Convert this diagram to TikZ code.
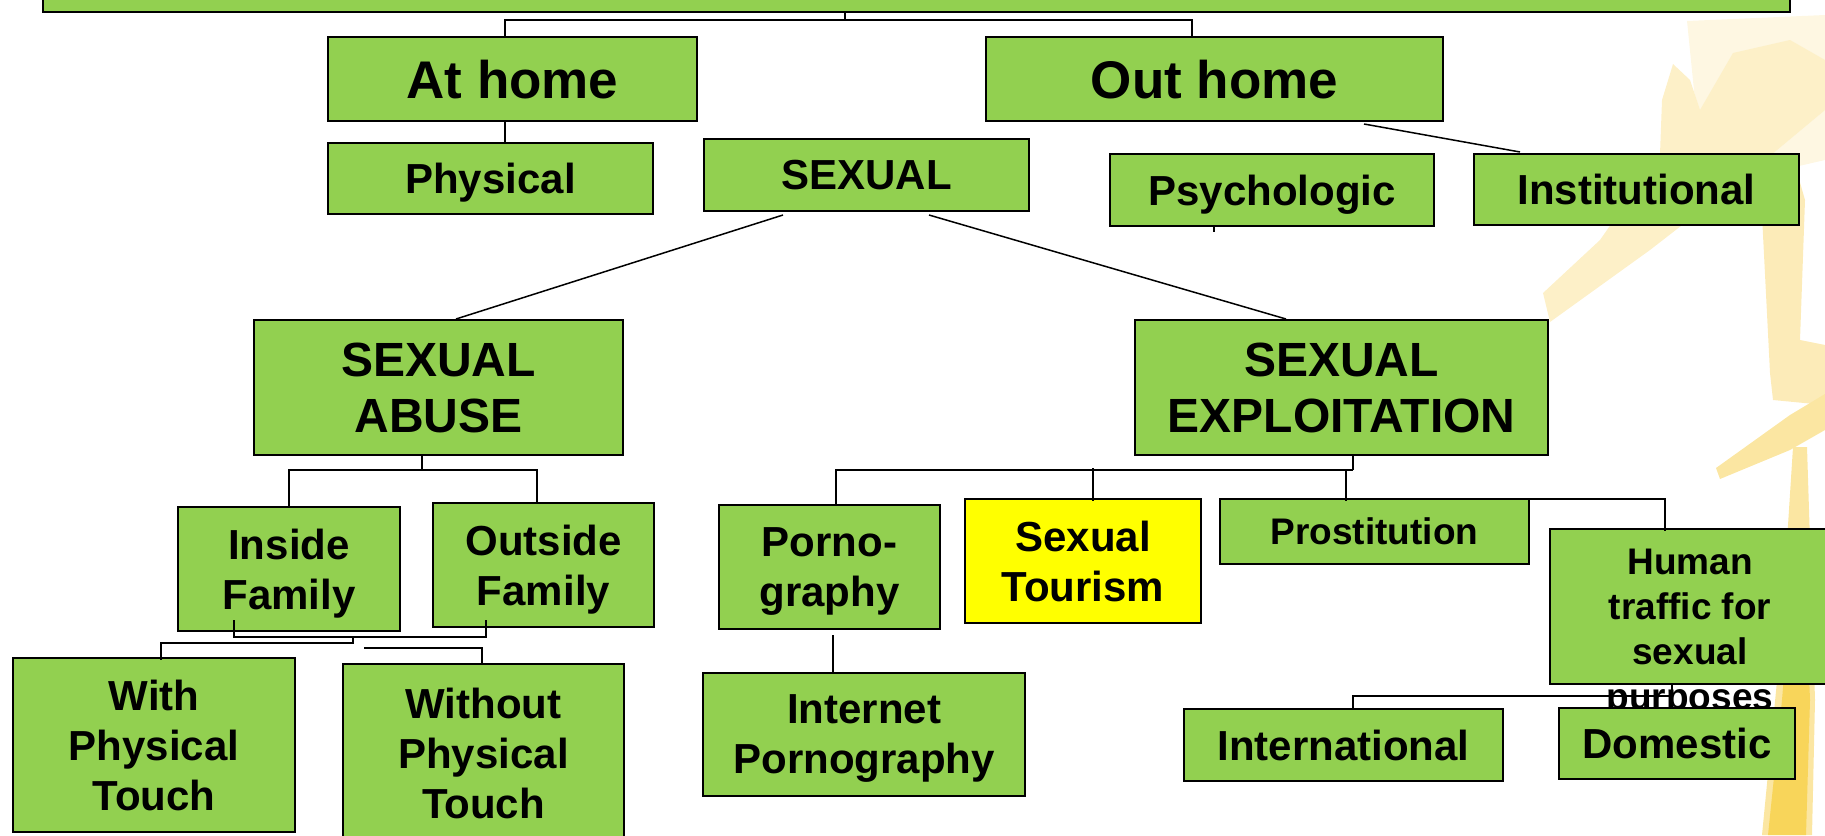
\documentclass[tikz,border=0pt]{standalone}
\usepackage{fontspec}
\setmainfont{Liberation Sans}
\usetikzlibrary{calc}
\definecolor{boxgreen}{HTML}{92D050}
\definecolor{boxyellow}{HTML}{FFFF00}
\definecolor{figpale}{HTML}{FEF7E2}
\definecolor{figarm}{HTML}{FDF0C8}
\definecolor{figbody}{HTML}{FCEBB8}
\definecolor{figleg}{HTML}{FBE6A2}
\definecolor{figstripe}{HTML}{F8D55A}
\begin{document}
\begin{tikzpicture}[x=0.5pt,y=-0.5pt,
  bx/.style={draw=black, line width=1pt, fill=boxgreen, inner sep=0pt, align=center, text depth=0pt},
  fa/.style={font=\bfseries\fontsize{21}{25}\selectfont},
  fb/.style={font=\bfseries\fontsize{24}{28}\selectfont},
  fc/.style={font=\bfseries\fontsize{26.5}{31}\selectfont},
  fd/.style={font=\bfseries\fontsize{18.5}{22.5}\selectfont},
  ln/.style={draw=black, line width=0.75pt}]
\useasboundingbox (0,0) rectangle (1825,835);
\clip (0,0) rectangle (1825,835);
% background figure
\fill[figpale] (1687,21) -- (1825,15) -- (1825,160) -- (1760,175) -- (1700,150) -- cycle;
\fill[figarm] (1543,293) -- (1600,240) -- (1660,154) -- (1662,100) -- (1673,64) -- (1690,80) -- (1700,110) -- (1733,53) -- (1790,40) -- (1825,60) -- (1825,110) -- (1753,170) -- (1650,250) -- (1550,322) -- cycle;
\fill[figbody] (1760,176) -- (1795,165) -- (1805,200) -- (1800,340) -- (1825,345) -- (1825,405) -- (1773,400) -- (1770,373) -- cycle;
\fill[figleg] (1720,479) -- (1716,468) -- (1790,415) -- (1825,394) -- (1825,430) -- (1790,450) -- cycle;
\fill[figleg] (1793,447) -- (1807,447) -- (1815,700) -- (1812,835) -- (1762,835) -- (1780,650) -- cycle;
\fill[figstripe] (1790,600) -- (1806,600) -- (1810,700) -- (1806,835) -- (1768,835) -- (1782,700) -- cycle;
% boxes
\node[bx, minimum width=873.5pt, minimum height=26pt] (top) at (916.5,-14) {};
\node[bx, fc, minimum width=184.5pt, minimum height=42pt] (athome) at (512.5,79) {At home};
\node[bx, fc, minimum width=228.5pt, minimum height=42pt] (outhome) at (1214.5,79) {Out home};
\node[bx, fa, minimum width=162.5pt, minimum height=35.5pt] (physical) at (490.5,178.5) {Physical};
\node[bx, fa, minimum width=162.5pt, minimum height=36pt] (sexual) at (866.5,175) {SEXUAL};
\node[bx, fa, minimum width=162pt, minimum height=36pt] (psych) at (1272,190) {Psychologic};
\node[bx, fa, minimum width=162.5pt, minimum height=35.5pt] (inst) at (1636.5,189.5) {Institutional};
\node[bx, fb, minimum width=184.5pt, minimum height=67.5pt] (abuse) at (438.5,387.5) {SEXUAL\\ABUSE};
\node[bx, fb, minimum width=206.5pt, minimum height=67.5pt] (exploit) at (1341.5,387.5) {SEXUAL\\EXPLOITATION};
\node[bx, fa, minimum width=111pt, minimum height=62pt] (inside) at (289,569) {Inside\\Family};
\node[bx, fa, minimum width=110.5pt, minimum height=62pt] (outside) at (543.5,565) {Outside\\Family};
\node[bx, fa, minimum width=141pt, minimum height=87pt] (with) at (154,745) {With\\Physical\\Touch};
\node[bx, fa, minimum width=140.5pt, minimum height=89pt] (without) at (483.5,753) {Without\\Physical\\Touch};
\node[bx, fa, minimum width=110.5pt, minimum height=62pt] (porno) at (829.5,567) {Porno-\\graphy};
\node[bx, fa, fill=boxyellow, minimum width=118pt, minimum height=62pt] (tourism) at (1083,561) {Sexual\\Tourism};
\node[bx, fd, minimum width=154.5pt, minimum height=32.5pt] (prost) at (1374.5,531.5) {Prostitution};
\node[bx, minimum width=140pt, minimum height=77.5pt] (human) at (1690,606.5) {};
\node[fd, align=center, inner sep=0pt] (humantext) at (1690,633) {Human\\traffic for\\sexual\\purposes};
\node[bx, fa, minimum width=159.5pt, minimum height=36pt] (intl) at (1343.5,745) {International};
\node[bx, fa, minimum width=161pt, minimum height=61.5pt] (internet) at (864,734.5) {Internet\\Pornography};
% connectors
\coordinate (j1) at (845,20);
\draw[ln] (j1 |- top.south) -- (j1);
\draw[ln] ($(athome.north)+(-7.5,0)$) |- (j1) -| ($(outhome.north)+(-22.5,0)$);
\draw[ln] ($(athome.south)+(-7.5,0)$) -- ($(athome.south |- physical.north)+(-7.5,0)$);
\draw[ln] ($(outhome.south)+(149.5,2)$) -- ($(inst.north)+(-116.5,-1)$);
\draw[ln] ($(psych.south)+(-58,0)$) -- ++(0,5);
\draw[ln] ($(sexual.south)+(-83.5,3)$) -- ($(abuse.north)+(17.5,0)$);
\draw[ln] ($(sexual.south)+(62.5,3)$) -- ($(exploit.north)+(-55.5,0)$);
\coordinate (j2) at (422,470);
\draw[ln] ($(abuse.south)+(-16.5,0)$) -- (j2);
\draw[ln] (inside.north) |- (j2) -| ($(outside.north)+(-6.5,0)$);
\draw[ln] ($(inside.south)+(-55,-12)$) |- ($(outside.south)+(-57.5,9)$) -- ($(outside.south)+(-57.5,-8)$);
\draw[ln] ($(inside.south)+(64,6)$) |- ($(with.north)+(7,-14)$) -- ($(with.north)+(7,3)$);
\draw[ln] ($(without.north)+(-119.5,-15)$) -| ($(without.north)+(-1.5,0)$);
\coordinate (j3) at (1353,470);
\draw[ln] ($(exploit.south)+(11.5,0)$) -- (j3);
\draw[ln] (j3) -| ($(porno.north)+(6.5,0)$);
\draw[ln] ($(tourism.north)+(10,-30)$) -- ($(tourism.north)+(10,3)$);
\draw[ln] ($(prost.north)+(-28.5,-28)$) -- ($(prost.north)+(-28.5,3)$);
\draw[ln] ($(prost.north)+(-48.5,1)$) -| ($(human.north)+(-25,3)$);
\draw[ln] ($(porno.south)+(3.5,5)$) -- ($(internet.north)+(-31,0)$);
\draw[ln] ($(human.south)+(-18,0)$) -- ++(0,11) -| ($(intl.north)+(9.5,0)$);
% last box on top of the overflowing text
\node[bx, fa, minimum width=118pt, minimum height=35.5pt] (domestic) at (1677,743.5) {Domestic};
\end{tikzpicture}
\end{document}
